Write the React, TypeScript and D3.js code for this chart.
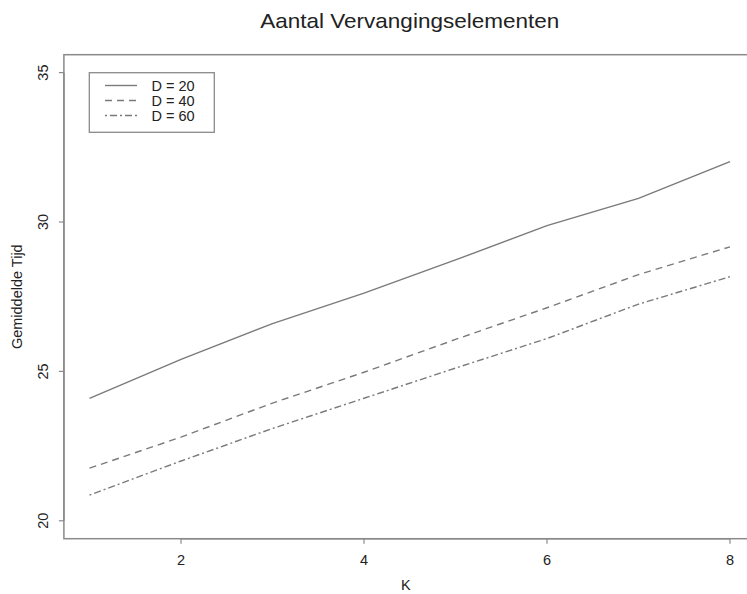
import React from "react";
import * as d3 from "d3";

// Number of replacement elements K and the mean time for each D setting
const kValues = [1, 2, 3, 4, 5, 6, 7, 8];
const d20 = [24.1, 25.4, 26.6, 27.62, 28.73, 29.88, 30.79, 32.02];
const d40 = [21.76, 22.8, 23.94, 24.97, 26.07, 27.13, 28.24, 29.17];
const d60 = [20.86, 22.0, 23.09, 24.1, 25.11, 26.1, 27.25, 28.17];

const seriesLabels = ["D = 20", "D = 40", "D = 60"];
const xTicks = [2, 4, 6, 8];
const yTicks = [20, 25, 30, 35];

const W = 747;
const H = 594;
const FONT = "'Liberation Sans', Arial, Helvetica, sans-serif";
const LINE = "#7a7a7a";
const AXIS = "#8a8a8a";
const TEXT = "#222";

// R-style 4% padding around the data range
const xPad = (8 - 1) * 0.04;
const yPad = (35 - 20) * 0.04;

export default function App() {
  const x = d3.scaleLinear().domain([1 - xPad, 8 + xPad]).range([63.9, 755.6]);
  const y = d3.scaleLinear().domain([20 - yPad, 35 + yPad]).range([538.7, 54.7]);

  const line = d3
    .line<number>()
    .x((_, i) => x(kValues[i]))
    .y((v) => y(v));

  const series = [
    { name: seriesLabels[0], values: d20, dash: "none" },
    { name: seriesLabels[1], values: d40, dash: "7,5" },
    { name: seriesLabels[2], values: d60, dash: "2,3,7,3" },
  ];

  const [x0, x1] = x.range();
  const [yb, yt] = y.range();

  return (
    <svg
      width={W}
      height={H}
      style={{ position: "absolute", left: 0, top: 0, background: "#fff" }}
      fontFamily={FONT}
    >
      <rect x={0} y={0} width={W} height={H} fill="#fff" />

      {/* title */}
      <text
        x={(x0 + x1) / 2}
        y={28}
        textAnchor="middle"
        fontSize={21}
        fill={TEXT}
        textLength={299}
        lengthAdjust="spacingAndGlyphs"
      >
        Aantal Vervangingselementen
      </text>

      {/* series */}
      {series.map((s) => (
        <path
          key={s.name}
          d={line(s.values) || ""}
          fill="none"
          stroke={LINE}
          strokeWidth={1.4}
          strokeDasharray={s.dash}
        />
      ))}

      {/* plot box */}
      <rect
        x={x0}
        y={yt}
        width={x1 - x0}
        height={yb - yt}
        fill="none"
        stroke={AXIS}
        strokeWidth={1.5}
      />

      {/* x axis */}
      <line x1={x(xTicks[0])} x2={x(xTicks[xTicks.length - 1])} y1={yb} y2={yb} stroke={AXIS} strokeWidth={1.5} />
      {xTicks.map((t) => (
        <g key={t}>
          <line x1={x(t)} x2={x(t)} y1={yb} y2={yb + 5} stroke={AXIS} strokeWidth={1.2} />
          <text x={x(t)} y={564.5} textAnchor="middle" fontSize={14.5} fill={TEXT}>
            {t}
          </text>
        </g>
      ))}
      <text x={(x0 + x1) / 2 - 4} y={590} textAnchor="middle" fontSize={14.5} fill={TEXT}>
        K
      </text>

      {/* y axis */}
      <line x1={x0} x2={x0} y1={y(yTicks[0])} y2={y(yTicks[yTicks.length - 1])} stroke={AXIS} strokeWidth={1.5} />
      {yTicks.map((t) => (
        <g key={t}>
          <line x1={x0 - 5} x2={x0} y1={y(t)} y2={y(t)} stroke={AXIS} strokeWidth={1.2} />
          <text
            transform={`translate(48,${y(t)}) rotate(-90)`}
            textAnchor="middle"
            fontSize={14.5}
            fill={TEXT}
          >
            {t}
          </text>
        </g>
      ))}
      <text
        transform={`translate(22,${(yt + yb) / 2}) rotate(-90)`}
        textAnchor="middle"
        fontSize={14.5}
        fill={TEXT}
      >
        Gemiddelde Tijd
      </text>

      {/* legend */}
      <rect x={89.3} y={72.7} width={125} height={59.6} fill="#fff" stroke={AXIS} strokeWidth={1.3} />
      {series.map((s, i) => {
        const ly = 85.5 + i * 15;
        return (
          <g key={s.name}>
            <line x1={105} x2={137} y1={ly} y2={ly} stroke={LINE} strokeWidth={1.4} strokeDasharray={s.dash} />
            <text x={151.5} y={ly + 5} fontSize={14.5} fill={TEXT}>
              {s.name}
            </text>
          </g>
        );
      })}
    </svg>
  );
}
